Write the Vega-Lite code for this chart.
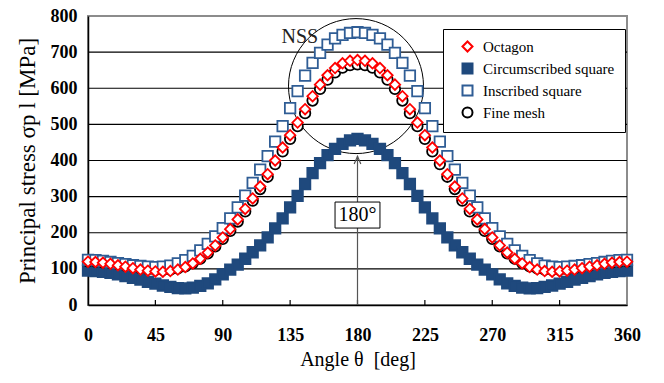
{
  "$schema": "https://vega.github.io/schema/vega-lite/v6.json",
  "width": 539,
  "height": 289,
  "autosize": {"type": "none"},
  "padding": {"left": 88, "top": 16, "right": 37, "bottom": 78},
  "background": "white",
  "config": {
    "view": {"stroke": "#8c8c8c", "strokeWidth": 2},
    "font": "Liberation Serif",
    "legend": {
      "title": null, "orient": "none", "legendX": 355, "legendY": 13,
      "padding": 10, "strokeColor": "black", "fillColor": "white",
      "symbolOffset": 7, "labelOffset": 8, "rowPadding": 3,
      "labelFont": "Liberation Serif", "labelFontSize": 15, "labelColor": "black",
      "symbolSize": 100, "symbolStrokeWidth": 2
    }
  },
  "encoding": {
    "x": {
      "field": "a", "type": "quantitative",
      "scale": {"domain": [0, 360], "nice": false, "zero": false},
      "axis": {
        "values": [0, 45, 90, 135, 180, 225, 270, 315, 360],
        "title": "Angle θ\u00a0\u00a0[deg]",
        "grid": false,
        "domainColor": "black", "domainWidth": 1.5,
        "ticks": false,
        "labelPadding": 21, "labelFlush": false,
        "labelFont": "Liberation Serif", "labelFontWeight": "bold", "labelFontSize": 18, "labelColor": "black",
        "titleFont": "Liberation Serif", "titleFontWeight": "normal", "titleFontSize": 20, "titleColor": "black",
        "titlePadding": 5
      }
    },
    "y": {
      "field": "v", "type": "quantitative",
      "scale": {"domain": [0, 800], "nice": false},
      "axis": {
        "values": [0, 100, 200, 300, 400, 500, 600, 700, 800],
        "labelOverlap": false,
        "title": "Principal stress σp l [MPa]",
        "grid": false,
        "ticks": false,
        "domainColor": "black", "domainWidth": 1.5,
        "labelPadding": 11, "labelFlush": false,
        "labelFont": "Liberation Serif", "labelFontWeight": "bold", "labelFontSize": 18, "labelColor": "black",
        "titleFont": "Liberation Serif", "titleFontWeight": "normal", "titleFontSize": 23, "titleColor": "black",
        "titlePadding": 11
      }
    }
  },
  "layer": [
    {
      "data": {"values": [
        {"v": 100, "a": 0, "a2": 360},
        {"v": 200, "a": 0, "a2": 360},
        {"v": 300, "a": 0, "a2": 360},
        {"v": 400, "a": 0, "a2": 360},
        {"v": 500, "a": 0, "a2": 360},
        {"v": 600, "a": 0, "a2": 360},
        {"v": 700, "a": 0, "a2": 360}
      ]},
      "mark": {"type": "rule", "color": "black", "strokeWidth": 1.2},
      "encoding": {"x2": {"field": "a2"}}
    },
    {
      "data": {"values": [
        {"a": 45, "v": 0, "v2": 14},
        {"a": 90, "v": 0, "v2": 14},
        {"a": 135, "v": 0, "v2": 14},
        {"a": 180, "v": 0, "v2": 14},
        {"a": 225, "v": 0, "v2": 14},
        {"a": 270, "v": 0, "v2": 14},
        {"a": 315, "v": 0, "v2": 14}
      ]},
      "mark": {"type": "rule", "color": "black", "strokeWidth": 1.2},
      "encoding": {"y2": {"field": "v2"}}
    },
    {
      "data": {"values": [{"a": 179, "v": 606}]},
      "mark": {"type": "point", "shape": "circle", "size": 18225, "filled": false, "stroke": "black", "strokeWidth": 1, "opacity": 1}
    },
    {
      "data": {"values": [
        {"a": 0, "O": 120, "C": 95, "I": 125, "F": 121},
        {"a": 5, "O": 119, "C": 94, "I": 124, "F": 120},
        {"a": 10, "O": 117, "C": 92, "I": 122, "F": 118},
        {"a": 15, "O": 114, "C": 89, "I": 119, "F": 116},
        {"a": 20, "O": 110, "C": 85, "I": 116, "F": 113},
        {"a": 25, "O": 106, "C": 80, "I": 113, "F": 109},
        {"a": 30, "O": 102, "C": 75, "I": 110, "F": 106},
        {"a": 35, "O": 98, "C": 70, "I": 108, "F": 102},
        {"a": 40, "O": 95, "C": 64, "I": 106, "F": 99},
        {"a": 45, "O": 93, "C": 59, "I": 105, "F": 97},
        {"a": 50, "O": 92, "C": 54, "I": 106, "F": 97},
        {"a": 55, "O": 94, "C": 50, "I": 109, "F": 98},
        {"a": 60, "O": 98, "C": 47, "I": 115, "F": 101},
        {"a": 65, "O": 105, "C": 46, "I": 124, "F": 107},
        {"a": 70, "O": 115, "C": 48, "I": 136, "F": 116},
        {"a": 75, "O": 128, "C": 53, "I": 151, "F": 128},
        {"a": 80, "O": 145, "C": 60, "I": 169, "F": 143},
        {"a": 85, "O": 165, "C": 71, "I": 190, "F": 162},
        {"a": 90, "O": 187, "C": 85, "I": 213, "F": 183},
        {"a": 95, "O": 210, "C": 98, "I": 240, "F": 205},
        {"a": 100, "O": 237, "C": 112, "I": 270, "F": 231},
        {"a": 105, "O": 266, "C": 128, "I": 303, "F": 259},
        {"a": 110, "O": 295, "C": 146, "I": 338, "F": 289},
        {"a": 115, "O": 328, "C": 165, "I": 375, "F": 321},
        {"a": 120, "O": 362, "C": 187, "I": 412, "F": 355},
        {"a": 125, "O": 400, "C": 212, "I": 452, "F": 390},
        {"a": 130, "O": 436, "C": 240, "I": 495, "F": 425},
        {"a": 135, "O": 470, "C": 270, "I": 545, "F": 460},
        {"a": 140, "O": 505, "C": 302, "I": 592, "F": 495},
        {"a": 145, "O": 542, "C": 335, "I": 635, "F": 531},
        {"a": 150, "O": 578, "C": 365, "I": 670, "F": 566},
        {"a": 155, "O": 610, "C": 393, "I": 698, "F": 598},
        {"a": 160, "O": 636, "C": 415, "I": 721, "F": 624},
        {"a": 165, "O": 656, "C": 432, "I": 738, "F": 644},
        {"a": 170, "O": 669, "C": 446, "I": 748, "F": 657},
        {"a": 175, "O": 676, "C": 456, "I": 753, "F": 664},
        {"a": 180, "O": 678, "C": 460, "I": 755, "F": 666},
        {"a": 185, "O": 676, "C": 456, "I": 753, "F": 664},
        {"a": 190, "O": 669, "C": 446, "I": 748, "F": 657},
        {"a": 195, "O": 656, "C": 432, "I": 738, "F": 644},
        {"a": 200, "O": 636, "C": 415, "I": 721, "F": 624},
        {"a": 205, "O": 610, "C": 393, "I": 698, "F": 598},
        {"a": 210, "O": 578, "C": 365, "I": 670, "F": 566},
        {"a": 215, "O": 542, "C": 335, "I": 635, "F": 531},
        {"a": 220, "O": 505, "C": 302, "I": 592, "F": 495},
        {"a": 225, "O": 470, "C": 270, "I": 545, "F": 460},
        {"a": 230, "O": 436, "C": 240, "I": 495, "F": 425},
        {"a": 235, "O": 400, "C": 212, "I": 452, "F": 390},
        {"a": 240, "O": 362, "C": 187, "I": 412, "F": 355},
        {"a": 245, "O": 328, "C": 165, "I": 375, "F": 321},
        {"a": 250, "O": 295, "C": 146, "I": 338, "F": 289},
        {"a": 255, "O": 266, "C": 128, "I": 303, "F": 259},
        {"a": 260, "O": 237, "C": 112, "I": 270, "F": 231},
        {"a": 265, "O": 210, "C": 98, "I": 240, "F": 205},
        {"a": 270, "O": 187, "C": 85, "I": 213, "F": 183},
        {"a": 275, "O": 165, "C": 71, "I": 190, "F": 162},
        {"a": 280, "O": 145, "C": 60, "I": 169, "F": 143},
        {"a": 285, "O": 128, "C": 53, "I": 151, "F": 128},
        {"a": 290, "O": 115, "C": 48, "I": 136, "F": 116},
        {"a": 295, "O": 105, "C": 46, "I": 124, "F": 107},
        {"a": 300, "O": 98, "C": 47, "I": 115, "F": 101},
        {"a": 305, "O": 94, "C": 50, "I": 109, "F": 98},
        {"a": 310, "O": 92, "C": 54, "I": 106, "F": 97},
        {"a": 315, "O": 93, "C": 59, "I": 105, "F": 97},
        {"a": 320, "O": 95, "C": 64, "I": 106, "F": 99},
        {"a": 325, "O": 98, "C": 70, "I": 108, "F": 102},
        {"a": 330, "O": 102, "C": 75, "I": 110, "F": 106},
        {"a": 335, "O": 106, "C": 80, "I": 113, "F": 109},
        {"a": 340, "O": 110, "C": 85, "I": 116, "F": 113},
        {"a": 345, "O": 114, "C": 89, "I": 119, "F": 116},
        {"a": 350, "O": 117, "C": 92, "I": 122, "F": 118},
        {"a": 355, "O": 119, "C": 94, "I": 124, "F": 120},
        {"a": 360, "O": 120, "C": 95, "I": 125, "F": 121}
      ]},
      "transform": [{"fold": ["O", "C", "I", "F"], "as": ["s", "v"]}],
      "mark": {"type": "point", "filled": true, "size": 110, "strokeWidth": 1.8, "opacity": 1},
      "encoding": {
        "shape": {
          "field": "s", "type": "nominal",
          "scale": {"domain": ["O", "C", "I", "F"], "range": ["diamond", "square", "square", "circle"]},
          "legend": {
            "labelExpr": "datum.label == 'O' ? 'Octagon' : datum.label == 'C' ? 'Circumscribed square' : datum.label == 'I' ? 'Inscribed square' : 'Fine mesh'",
            "encode": {"symbols": {
              "stroke": {"value": {"expr": "datum.value == 'O' ? '#ff0000' : datum.value == 'C' ? '#1f497d' : datum.value == 'I' ? '#2f5d95' : '#000000'"}},
              "fill": {"value": {"expr": "datum.value == 'C' ? '#1f497d' : '#ffffff'"}}
            }}
          }
        },
        "stroke": {
          "field": "s", "type": "nominal",
          "scale": {"domain": ["O", "C", "I", "F"], "range": ["#ff0000", "#1f497d", "#2f5d95", "#000000"]},
          "legend": null
        },
        "fill": {
          "field": "s", "type": "nominal",
          "scale": {"domain": ["O", "C", "I", "F"], "range": ["#ffffff", "#1f497d", "#ffffff", "#ffffff"]},
          "legend": null
        },
        "order": {"field": "s", "sort": "ascending"}
      }
    },
    {
      "data": {"values": [{"a": 180, "v": 0, "v2": 412}]},
      "mark": {"type": "rule", "color": "#555555", "strokeWidth": 1.2},
      "encoding": {"y2": {"field": "v2"}}
    },
    {
      "data": {"values": [{"a": 180, "v": 412}]},
      "mark": {"type": "point", "shape": "M-1.1,2.6L0,0L1.1,2.6", "size": 36, "filled": false, "stroke": "#555555", "strokeWidth": 1.2, "opacity": 1}
    },
    {
      "data": {"values": [{"a": 165, "a2": 195, "v": 213, "v2": 285}]},
      "mark": {"type": "rect", "fill": "white", "stroke": "black", "strokeWidth": 1},
      "encoding": {"x2": {"field": "a2"}, "y2": {"field": "v2"}}
    },
    {
      "data": {"values": [{"a": 180, "v": 249, "t": "180°"}]},
      "mark": {"type": "text", "font": "Liberation Serif", "fontSize": 20, "color": "black", "align": "center", "baseline": "middle"},
      "encoding": {"text": {"field": "t"}}
    },
    {
      "data": {"values": [{"a": 141.5, "v": 742, "t": "NSS"}]},
      "mark": {"type": "text", "font": "Liberation Serif", "fontSize": 20, "color": "#222222", "align": "center", "baseline": "middle"},
      "encoding": {"text": {"field": "t"}}
    }
  ]
}
